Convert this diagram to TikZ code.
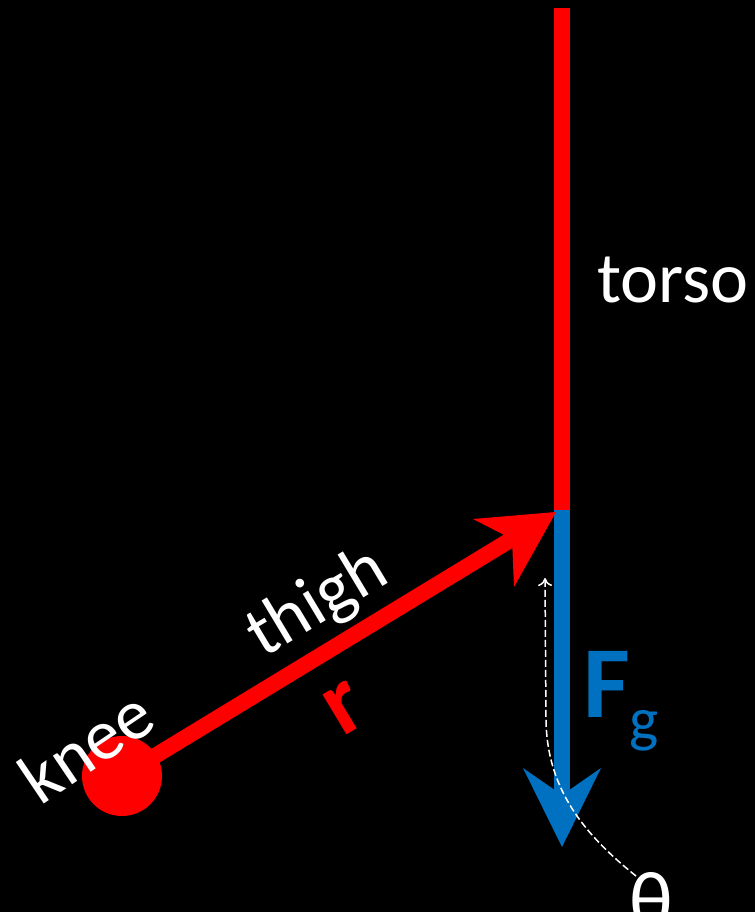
\documentclass[tikz,border=0pt]{standalone}
\usepackage{fontspec}
\setmainfont{Carlito}
\usetikzlibrary{arrows.meta}
\definecolor{fgblue}{HTML}{0070C0}
\begin{document}
\begin{tikzpicture}[x=1pt,y=-1pt,
  lbl/.style={text=white,font=\fontsize{72}{80}\selectfont,inner sep=0pt},
  seg/.style={line width=16pt}]
\fill[black] (0,0) rectangle (755,912);
\useasboundingbox (0,0) rectangle (755,912);
% coordinates
\coordinate (torsotop) at (562,8);
\coordinate (hip) at (562,510);
\coordinate (knee) at (122,776);
\coordinate (rtip) at (556,512);
\coordinate (rnotch) at (512,539);
\coordinate (rw1) at (473,519);
\coordinate (rw2) at (514,587);
\coordinate (ftip) at (562,847);
\coordinate (fnotch) at (562,795);
\coordinate (fw1) at (523,768);
\coordinate (fw2) at (601,768);
\coordinate (thtop) at (545,578);
% torso
\draw[seg,red] (torsotop) -- (hip);
% gravity force
\draw[seg,fgblue] (hip) -- (562,800);
\fill[fgblue] (ftip) -- (fw1) -- (fnotch) -- (fw2) -- cycle;
% thigh vector
\draw[seg,red] (knee) -- (rnotch);
\fill[red] (rtip) -- (rw1) -- (rnotch) -- (rw2) -- cycle;
\fill[red] (knee) circle (40);
% labels
\node[lbl,anchor=base west] (torso) at (597,302) {torso};
\node[lbl,rotate=31] (thigh) at (318,604) {thigh};
\node[lbl,rotate=34] (kneelbl) at (86,746) {knee};
\node[text=red,font=\fontsize{96}{100}\selectfont\bfseries,rotate=31,inner sep=0pt] (r) at (345,708) {r};
\node[text=fgblue,font=\fontsize{102}{110}\selectfont\bfseries,inner sep=0pt,anchor=base west] (F) at (583,717) {F};
\node[text=fgblue,font=\fontsize{62}{70}\selectfont,inner sep=0pt,anchor=base west] (g) at (629,740) {g};
\node[lbl,anchor=base west,font=\fontsize{82}{86}\selectfont] (theta) at (629,928) {θ};
% angle curve
\draw[white,line width=1.5pt,dash pattern=on 7pt off 3pt,-{To[length=8pt,width=14pt]}]
  (636,876) .. controls (585,835) and (547,790) .. (546,720) -- (thtop);
\end{tikzpicture}
\end{document}
